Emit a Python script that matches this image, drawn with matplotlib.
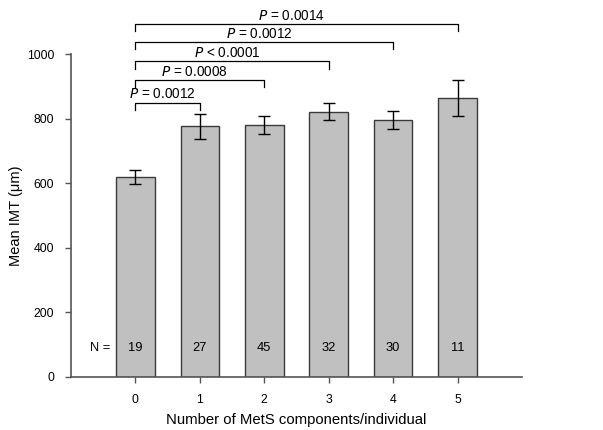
"""
Mean IMT by number of MetS components
"""

import matplotlib

matplotlib.use("Agg")
import matplotlib.pyplot as plt

plt.rcParams["font.family"] = ["Liberation Sans", "DejaVu Sans"]

# data
components = [0, 1, 2, 3, 4, 5]
mean_imt = [618, 776, 779, 821, 795, 864]
imt_err = [22, 39, 28, 26, 28, 55]
n_subjects = [19, 27, 45, 32, 30, 11]

# comparisons against group 0: (other group, bracket height, label)
comp_groups = [1, 2, 3, 4, 5]
comp_heights = [849, 919, 977, 1036, 1092]
comp_labels = ["= 0.0012", "= 0.0008", "< 0.0001", "= 0.0012", "= 0.0014"]

edge = "#3a3a3a"

fig = plt.figure(figsize=(6.03, 4.30), dpi=100)
ax = fig.add_axes([0.1177, 0.1233, 0.748, 0.7511])

ax.bar(components, mean_imt, width=0.6, color="#c0c0c0", edgecolor=edge, linewidth=1.0)
ax.errorbar(components, mean_imt, yerr=imt_err, fmt="none", ecolor="black",
			elinewidth=1.0, capsize=4, capthick=1.0)

ax.set_xlim(-1, 6)
ax.set_ylim(0, 1000)
ax.set_xticks(components)
ax.set_yticks(range(0, 1001, 200))

for side in ["top", "right"]:
	ax.spines[side].set_visible(False)
for side in ["left", "bottom"]:
	ax.spines[side].set_color("#555555")
	ax.spines[side].set_linewidth(1.2)
ax.tick_params(axis="both", colors="#555555", labelcolor="black", labelsize=8.8,
			   length=4, width=1.0, direction="out", pad=8)

ax.set_xlabel("Number of MetS components/individual", fontsize=10.7, labelpad=5)
ax.set_ylabel("Mean IMT (\u03bcm)", fontsize=10.5, labelpad=3)

# N row
ax.text(-0.55, 90, "N =", ha="center", va="center", fontsize=9.3)
for x, n in zip(components, n_subjects):
	ax.text(x, 90, str(n), ha="center", va="center", fontsize=9.3)

# significance brackets
drop = 22
for g, h, lab in zip(comp_groups, comp_heights, comp_labels):
	ax.plot([0, 0, g, g], [h - drop, h, h, h - drop], color="black", lw=0.9,
			clip_on=False)
	ax.text(g / 2 - 0.08, h + 4, "$P$ " + lab, ha="center", va="bottom",
			fontsize=9.8, clip_on=False)

fig.savefig("out.png", dpi=100)
